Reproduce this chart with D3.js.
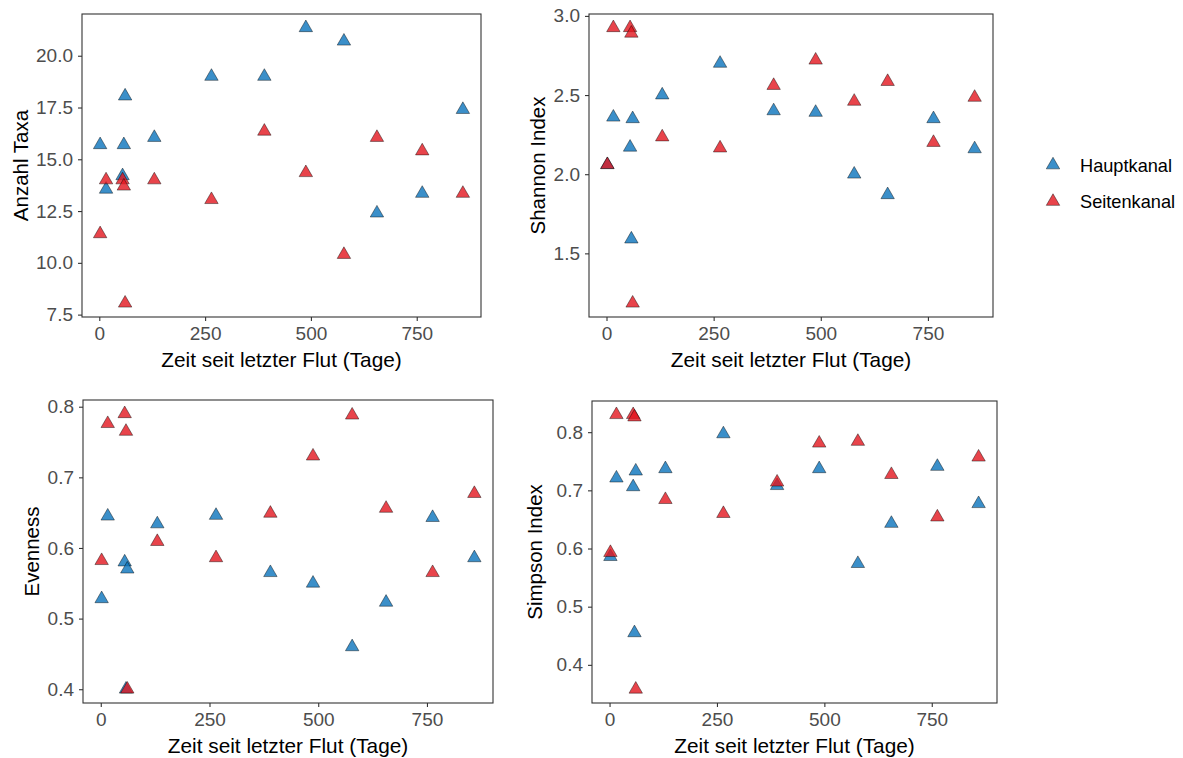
<!DOCTYPE html>
<html>
<head>
<meta charset="utf-8">
<script src="https://cdn.jsdelivr.net/npm/d3@7"></script>
<style>
    html, body { margin: 0; padding: 0; background: #fff; }
    svg text { font-family: "Liberation Sans", Arial, sans-serif; }
</style>
</head>
<body>
<script>

// days since last flood, shared by both channels
var days = [2, 16, 55, 58, 61, 130, 265, 390, 488, 578, 656, 763, 859];

var seriesNames = ["Hauptkanal", "Seitenkanal"];

var blueTaxa = [15.7, 13.55, 14.2, 15.7, 18.05, 16.05, 19.0, 19.0, 21.35, 20.7, 12.4, 13.35, 17.4];
var redTaxa = [11.4, 14.0, 14.0, 13.7, 8.05, 14.0, 13.05, 16.35, 14.35, 10.4, 16.05, 15.4, 13.35];

var blueShannon = [2.06, 2.36, 2.17, 1.59, 2.35, 2.50, 2.70, 2.40, 2.39, 2.00, 1.87, 2.35, 2.16];
var redShannon = [2.06, 2.925, 2.925, 2.89, 1.185, 2.235, 2.165, 2.56, 2.72, 2.46, 2.585, 2.20, 2.485];

var blueEvenness = [0.528, 0.645, 0.58, 0.40, 0.57, 0.634, 0.646, 0.565, 0.55, 0.46, 0.523, 0.643, 0.586];
var redEvenness = [0.582, 0.776, 0.79, 0.765, 0.40, 0.609, 0.586, 0.649, 0.73, 0.788, 0.656, 0.565, 0.677];

var blueSimpson = [0.586, 0.721, 0.706, 0.455, 0.733, 0.737, 0.797, 0.708, 0.737, 0.574, 0.643, 0.741, 0.677];
var redSimpson = [0.593, 0.83, 0.83, 0.826, 0.358, 0.684, 0.66, 0.714, 0.781, 0.784, 0.727, 0.654, 0.757];

var xTicks = [0, 250, 500, 750];
var taxaTicks = [7.5, 10, 12.5, 15, 17.5, 20];
var shannonTicks = [1.5, 2.0, 2.5, 3.0];
var evennessTicks = [0.4, 0.5, 0.6, 0.7, 0.8];
var simpsonTicks = [0.4, 0.5, 0.6, 0.7, 0.8];

var xTitle = "Zeit seit letzter Flut (Tage)";

var colors = ["#0a73bb", "#e2151e"];

var svg = d3.select("body").append("svg")
    .attr("width", 1183)
    .attr("height", 758);

// panel boxes in page pixels
var panels = [
    { left: 82, top: 14, right: 481, bottom: 317, title: "Anzahl Taxa", titleX: 27.5,
      ticks: taxaTicks, series: [blueTaxa, redTaxa] },
    { left: 589, top: 14, right: 993, bottom: 317, title: "Shannon Index", titleX: 545,
      ticks: shannonTicks, series: [blueShannon, redShannon] },
    { left: 83, top: 400, right: 493, bottom: 703, title: "Evenness", titleX: 39,
      ticks: evennessTicks, series: [blueEvenness, redEvenness] },
    { left: 592, top: 401, right: 997, bottom: 703, title: "Simpson Index", titleX: 542,
      ticks: simpsonTicks, series: [blueSimpson, redSimpson] }
];

// ggplot style 5% expansion
function expand(ext) {
    var pad = (ext[1] - ext[0]) * 0.05;
    return [ext[0] - pad, ext[1] + pad];
}

var triangle = d3.symbol().type(d3.symbolTriangle).size(78);

panels.forEach(function(p) {
    var g = svg.append("g");

    var xScale = d3.scaleLinear()
        .domain(expand(d3.extent(days)))
        .range([p.left, p.right]);

    var allY = p.series[0].concat(p.series[1]);
    var yScale = d3.scaleLinear()
        .domain(expand(d3.extent(allY)))
        .range([p.bottom, p.top]);

    // x axis
    var xAxis = g.append("g")
        .attr("transform", "translate(0," + p.bottom + ")")
        .call(d3.axisBottom(xScale).tickValues(xTicks).tickSize(4).tickPadding(6).tickFormat(d3.format("d")));

    // y axis
    var yAxis = g.append("g")
        .attr("transform", "translate(" + p.left + ",0)")
        .call(d3.axisLeft(yScale).tickValues(p.ticks).tickSize(4).tickPadding(5).tickFormat(d3.format(".1f")));

    [xAxis, yAxis].forEach(function(a) {
        a.select(".domain").remove();
        a.selectAll(".tick line").attr("stroke", "#333").attr("stroke-width", 1.1);
        a.selectAll(".tick text")
            .attr("fill", "#4d4d4d")
            .style("font-size", "19px");
    });
    xAxis.selectAll(".tick text").attr("dy", "0.68em");

    // points, main channel first
    p.series.forEach(function(vals, si) {
        g.selectAll(null)
            .data(vals)
            .enter()
            .append("path")
            .attr("d", triangle)
            .attr("transform", function(d, i) {
                return "translate(" + xScale(days[i]) + "," + yScale(d) + ")";
            })
            .attr("fill", colors[si])
            .attr("fill-opacity", 0.8)
            .attr("stroke", "#000")
            .attr("stroke-opacity", 0.7)
            .attr("stroke-width", 0.6);
    });

    // panel border
    g.append("rect")
        .attr("x", p.left)
        .attr("y", p.top)
        .attr("width", p.right - p.left)
        .attr("height", p.bottom - p.top)
        .attr("fill", "none")
        .attr("stroke", "#333")
        .attr("stroke-width", 1.1);

    // text label for the x axis
    g.append("text")
        .attr("x", (p.left + p.right) / 2)
        .attr("y", p.bottom + 50)
        .style("text-anchor", "middle")
        .style("font-size", "20.8px")
        .attr("fill", "#000")
        .text(xTitle);

    // text label for the y axis
    g.append("text")
        .attr("transform", "translate(" + p.titleX + "," + ((p.top + p.bottom) / 2) + ") rotate(-90)")
        .style("text-anchor", "middle")
        .style("font-size", "20.5px")
        .attr("fill", "#000")
        .text(p.title);
});

// legend
var legend = svg.append("g")
    .attr("transform", "translate(1053,165)");

seriesNames.forEach(function(name, i) {
    var row = legend.append("g")
        .attr("transform", "translate(0," + (i * 36.5) + ")");
    row.append("path")
        .attr("d", triangle)
        .attr("fill", colors[i])
        .attr("fill-opacity", 0.8)
        .attr("stroke", "#000")
        .attr("stroke-opacity", 0.7)
        .attr("stroke-width", 0.6);
    row.append("text")
        .attr("x", 27)
        .attr("y", 6.5)
        .style("font-size", "18.2px")
        .attr("fill", "#000")
        .text(name);
});

</script>
</body>
</html>
